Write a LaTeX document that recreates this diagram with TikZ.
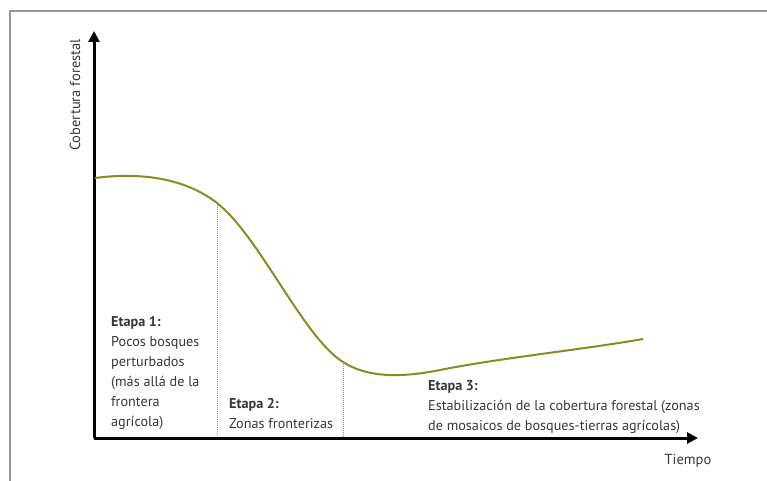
\documentclass[tikz,border=0pt]{standalone}
\usepackage{fontspec}
\setmainfont{PT Sans}
\usepackage{xcolor}
\usepackage{tikz}
\usetikzlibrary{positioning}
\usetikzlibrary{arrows.meta}
\definecolor{curvegreen}{RGB}{135,140,35}
\definecolor{textgray}{RGB}{55,55,55}
\definecolor{framegray}{RGB}{150,150,150}
\tikzset{stage text/.style={anchor=north west,align=left,inner sep=0pt,text=textgray,font=\fontsize{14.2}{20}\selectfont},
axis label/.style={inner sep=0pt,text=textgray,font=\fontsize{14.5}{16}\selectfont},}

\begin{document}
\begin{tikzpicture}[x=1pt, y=-1pt, >={Triangle[length=11pt,width=11pt]}]
	\useasboundingbox (0,0) rectangle (767,481);
	% frame
	\draw[framegray, line width=2pt] (10,481) -- (10,11) -- (767,11);

	\coordinate (O) at (94,438);
	\coordinate (ytop) at (94,31);
	\coordinate (xend) at (698,438);
	\coordinate (d1top) at (217,203);
	\coordinate (d1bot) at (217,438);
	\coordinate (d2top) at (343,362);
	\coordinate (d2bot) at (343,438);
	\coordinate (low) at (440,370);
	\coordinate (cend) at (643,339);

	% dotted stage limits
	\draw[framegray, densely dotted, line width=1pt] (d1top) -- (d1bot);
	\draw[framegray, densely dotted, line width=1pt] (d2top) -- (d2bot);

	% axes
	\draw[->, line width=3pt] (O) -- (ytop);
	\draw[->, line width=3pt] (O) -- (xend);

	% forest cover curve
	\draw[curvegreen, line width=2pt] (95,178)
	    .. controls (140,172) and (185,178) .. (d1top)
	    .. controls (260,237) and (303,337) .. (d2top)
	    .. controls (365,376) and (395,379) .. (low)
	    .. controls (500,358) and (580,350) .. (cend);

	\node[axis label, rotate=90] (ylab) at (75,95) {Cobertura forestal};
	\node[axis label] (xlab) at (688,461) {Tiempo};

	\node[stage text] (s1) at (111,316) {\textbf{Etapa 1:}\\Pocos bosques\\perturbados\\(más allá de la\\frontera\\agrícola)};
	\node[stage text] (s2) at (229,398) {\textbf{Etapa 2:}\\Zonas fronterizas};
	\node[stage text] (s3) at (428,380) {\textbf{Etapa 3:}\\Estabilización de la cobertura forestal (zonas\\de mosaicos de bosques-tierras agrícolas)};
\end{tikzpicture}
\end{document}
